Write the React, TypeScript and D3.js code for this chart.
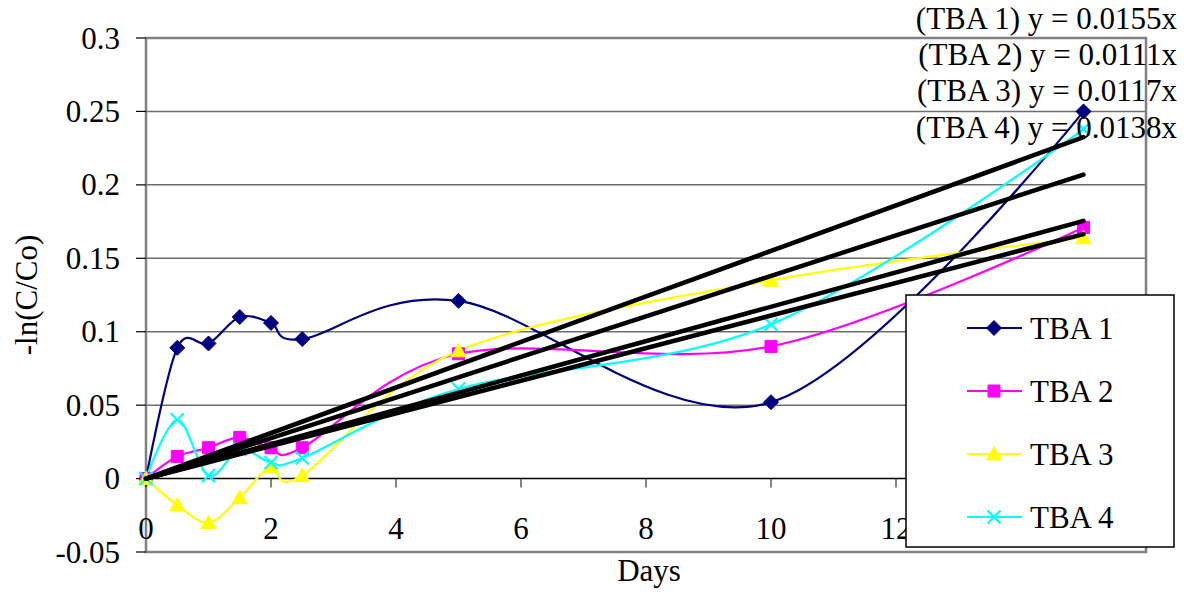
import { useEffect, useRef } from 'react';
import { line, curveCardinal, scaleLinear, select } from 'd3';

const days = [0, 0.5, 1, 1.5, 2, 2.5, 5, 10, 15];
const tba1 = [0, 0.089, 0.092, 0.11, 0.106, 0.095, 0.121, 0.052, 0.25];
const tba2 = [0, 0.015, 0.021, 0.028, 0.021, 0.021, 0.085, 0.09, 0.171];
const tba3 = [0, -0.018, -0.03, -0.013, 0.008, 0.002, 0.087, 0.135, 0.164];
const tba4 = [0, 0.04, 0.002, 0.02, 0.011, 0.014, 0.061, 0.105, 0.238];
const seriesNames = ['TBA 1', 'TBA 2', 'TBA 3', 'TBA 4'];
const slopes = [0.0155, 0.0111, 0.0117, 0.0138];
const xTicks = [0, 2, 4, 6, 8, 10, 12, 14, 16];
// 14 and 16 sit under the legend box in the original
const xLabels = [0, 2, 4, 6, 8, 10, 12];
const yTicks = [-0.05, 0, 0.05, 0.1, 0.15, 0.2, 0.25, 0.3];

const colors = ['#000080', '#ff00ff', '#ffff00', '#00ffff'];
const markers = ['diamond', 'square', 'triangle', 'x'];
const FONT = '"Liberation Serif", "Times New Roman", serif';
const FS = 31;

function markerPath(kind: string) {
  switch (kind) {
    case 'diamond':
      return 'M0,-7.5L7.5,0L0,7.5L-7.5,0Z';
    case 'square':
      return 'M-6,-6H6V6H-6Z';
    case 'triangle':
      return 'M0,-7.5L7.5,6L-7.5,6Z';
    default:
      return 'M-6.5,-6.5L6.5,6.5M6.5,-6.5L-6.5,6.5';
  }
}

export default function App() {
  const svgRef = useRef<SVGSVGElement>(null);

  useEffect(() => {
    const width = 1188;
    const height = 593;
    const values = [tba1, tba2, tba3, tba4];

    const svg = select(svgRef.current);
    svg.selectAll('*').remove();
    svg.attr('width', width).attr('height', height);

    const x = scaleLinear().domain([0, 16]).range([146, 1146]);
    const y = scaleLinear().domain([-0.05, 0.3]).range([552, 38]);

    // grid
    svg
      .selectAll('line.grid')
      .data(yTicks.filter((t) => t !== 0 && t !== -0.05 && t !== 0.3))
      .enter()
      .append('line')
      .attr('x1', x(0))
      .attr('x2', x(16))
      .attr('y1', (d) => y(d))
      .attr('y2', (d) => y(d))
      .attr('stroke', '#6e6e6e')
      .attr('stroke-width', 1.5);

    // frame
    svg
      .append('rect')
      .attr('x', x(0))
      .attr('y', y(0.3))
      .attr('width', x(16) - x(0))
      .attr('height', y(-0.05) - y(0.3))
      .attr('fill', 'none')
      .attr('stroke', '#808080')
      .attr('stroke-width', 2.5);

    // zero line + ticks
    svg
      .append('line')
      .attr('x1', x(0))
      .attr('x2', x(16))
      .attr('y1', y(0))
      .attr('y2', y(0))
      .attr('stroke', '#000')
      .attr('stroke-width', 1.5);

    svg
      .selectAll('line.xtick')
      .data(xTicks)
      .enter()
      .append('line')
      .attr('x1', (d) => x(d))
      .attr('x2', (d) => x(d))
      .attr('y1', y(0))
      .attr('y2', y(0) + 9)
      .attr('stroke', '#333')
      .attr('stroke-width', 1.2);

    svg
      .selectAll('line.ytick')
      .data(yTicks)
      .enter()
      .append('line')
      .attr('x1', x(0) - 10)
      .attr('x2', x(0))
      .attr('y1', (d) => y(d))
      .attr('y2', (d) => y(d))
      .attr('stroke', '#000')
      .attr('stroke-width', 1.2);

    svg
      .selectAll('text.ylab')
      .data(yTicks)
      .enter()
      .append('text')
      .attr('x', 120)
      .attr('y', (d) => y(d) + 10.5)
      .attr('text-anchor', 'end')
      .attr('font-family', FONT)
      .attr('font-size', FS)
      .text((d) => String(d));

    svg
      .selectAll('text.xlab')
      .data(xLabels)
      .enter()
      .append('text')
      .attr('x', (d) => x(d))
      .attr('y', 539)
      .attr('text-anchor', 'middle')
      .attr('font-family', FONT)
      .attr('font-size', FS)
      .text((d) => String(d));

    svg
      .append('text')
      .attr('x', 649)
      .attr('y', 581)
      .attr('text-anchor', 'middle')
      .attr('font-family', FONT)
      .attr('font-size', FS)
      .text('Days');

    svg
      .append('text')
      .attr('transform', 'translate(37,295) rotate(-90)')
      .attr('text-anchor', 'middle')
      .attr('font-family', FONT)
      .attr('font-size', FS)
      .text('-ln(C/Co)');

    // series lines
    const curve = line<number>()
      .x((_, i) => x(days[i]))
      .y((d) => y(d))
      .curve(curveCardinal.tension(0));

    values.forEach((vals, s) => {
      svg
        .append('path')
        .attr('d', curve(vals))
        .attr('fill', 'none')
        .attr('stroke', colors[s])
        .attr('stroke-width', 2.2);
    });

    // markers
    values.forEach((vals, s) => {
      svg
        .selectAll(`path.m${s}`)
        .data(vals)
        .enter()
        .append('path')
        .attr('transform', (d, i) => `translate(${x(days[i])},${y(d)})`)
        .attr('d', markerPath(markers[s]))
        .attr('fill', markers[s] === 'x' ? 'none' : colors[s])
        .attr('stroke', colors[s])
        .attr('stroke-width', markers[s] === 'x' ? 2.2 : 1);
    });

    // trend lines
    svg
      .selectAll('line.trend')
      .data(slopes)
      .enter()
      .append('line')
      .attr('x1', x(0))
      .attr('y1', y(0))
      .attr('x2', x(15))
      .attr('y2', (d) => y(d * 15))
      .attr('stroke', '#000')
      .attr('stroke-width', 4.5)
      .attr('stroke-linecap', 'round');

    // equations
    const eqY = [29, 65, 101, 138];
    svg
      .selectAll('text.eq')
      .data(slopes)
      .enter()
      .append('text')
      .attr('x', 1177)
      .attr('y', (_, i) => eqY[i])
      .attr('text-anchor', 'end')
      .attr('font-family', FONT)
      .attr('font-size', FS)
      .text((d, i) => `(TBA ${i + 1}) y = ${d}x`);

    // legend
    const legend = svg.append('g');
    legend
      .append('rect')
      .attr('x', 906)
      .attr('y', 295)
      .attr('width', 268)
      .attr('height', 252)
      .attr('fill', '#fff')
      .attr('stroke', '#000')
      .attr('stroke-width', 1.5);

    const legY = [328, 391, 454, 517];
    const entry = legend
      .selectAll('g.entry')
      .data(seriesNames)
      .enter()
      .append('g')
      .attr('transform', (_, i) => `translate(0,${legY[i]})`);

    entry
      .append('line')
      .attr('x1', 967)
      .attr('x2', 1022)
      .attr('stroke', (_, i) => colors[i])
      .attr('stroke-width', 2.2);

    entry
      .append('path')
      .attr('transform', 'translate(994,0)')
      .attr('d', (_, i) => markerPath(markers[i]))
      .attr('fill', (_, i) => (markers[i] === 'x' ? 'none' : colors[i]))
      .attr('stroke', (_, i) => colors[i])
      .attr('stroke-width', (_, i) => (markers[i] === 'x' ? 2.2 : 1));

    entry
      .append('text')
      .attr('x', 1030)
      .attr('y', 11)
      .attr('font-family', FONT)
      .attr('font-size', FS)
      .text((d) => d);
  }, []);

  return (
    <div style={{ position: 'absolute', left: 0, top: 0 }}>
      <svg ref={svgRef} style={{ display: 'block' }}></svg>
    </div>
  );
}
